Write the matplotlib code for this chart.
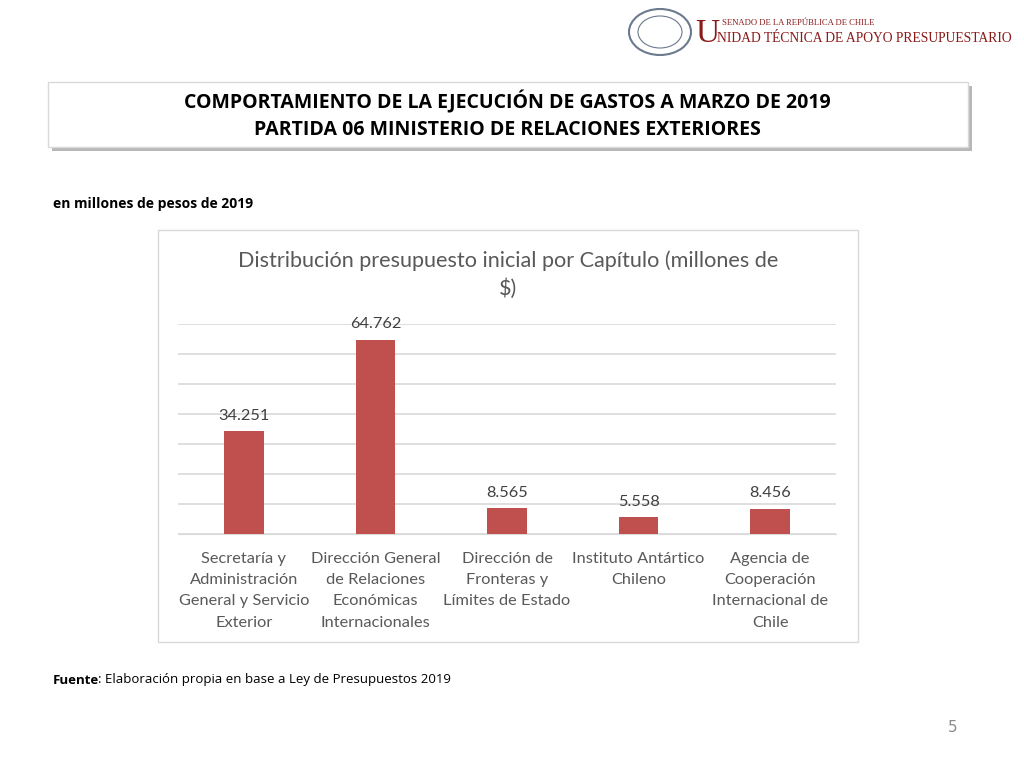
import matplotlib.pyplot as plt
from matplotlib.patches import Rectangle, Ellipse

# data
capitulos = [
    "Secretaría y\nAdministración\nGeneral y Servicio\nExterior",
    "Dirección General\nde Relaciones\nEconómicas\nInternacionales",
    "Dirección de\nFronteras y\nLímites de Estado",
    "Instituto Antártico\nChileno",
    "Agencia de\nCooperación\nInternacional de\nChile",
]
presupuesto = [34251, 64762, 8565, 5558, 8456]
etiquetas = ["34.251", "64.762", "8.565", "5.558", "8.456"]

W, H = 1024, 768
fig = plt.figure(figsize=(10.24, 7.68), dpi=100)
fig.patch.set_facecolor("white")
bold_font = ["Open Sans", "DejaVu Sans"]
chart_font = ["Lato", "DejaVu Sans"]

def fx(x):
    return x / W

def fy(y):
    return 1 - y / H

# header logo
fig.patches.append(Ellipse((fx(660), fy(32)), 62 / W, 46 / H, transform=fig.transFigure,
                           facecolor="white", edgecolor="#6b7a8f", lw=1.5))
fig.patches.append(Ellipse((fx(660), fy(32)), 44 / W, 32 / H, transform=fig.transFigure,
                           facecolor="white", edgecolor="#6b7a8f", lw=0.8))
fig.text(fx(695), fy(34), "U", fontsize=24, color="#8B1A1A", family="Liberation Serif",
         ha="left", va="center")
fig.text(fx(722), fy(23), "SENADO DE LA REPÚBLICA DE CHILE", fontsize=6.2, color="#8B1A1A",
         family="Liberation Serif", ha="left", va="center")
fig.text(fx(717), fy(39), "NIDAD TÉCNICA DE APOYO PRESUPUESTARIO", fontsize=9.8, color="#8B1A1A",
         family="Liberation Serif", ha="left", va="center")

# title box with shadow
fig.patches.append(Rectangle((fx(52), fy(151)), 920 / W, 65 / H, transform=fig.transFigure,
                             facecolor="#b8b8b8", edgecolor="none", zorder=0))
fig.patches.append(Rectangle((fx(48), fy(147)), 920 / W, 65 / H, transform=fig.transFigure,
                             facecolor="white", edgecolor="#d9d9d9", lw=1, zorder=1))
fig.text(fx(507), fy(102), "COMPORTAMIENTO DE LA EJECUCIÓN DE GASTOS A MARZO DE 2019",
         fontsize=14, fontweight="bold", family=bold_font, ha="center", va="center", zorder=2)
fig.text(fx(507), fy(130), "PARTIDA 06 MINISTERIO DE RELACIONES EXTERIORES",
         fontsize=14, fontweight="bold", family=bold_font, ha="center", va="center", zorder=2)

fig.text(fx(53), fy(204), "en millones de pesos de 2019", fontsize=10, fontweight="bold",
         ha="left", va="center", family=bold_font)

# chart frame
fig.patches.append(Rectangle((fx(158), fy(642)), 700 / W, 412 / H, transform=fig.transFigure,
                             facecolor="white", edgecolor="#d9d9d9", lw=1, zorder=-1))
fig.text(fx(508), fy(261), "Distribución presupuesto inicial por Capítulo (millones de",
         fontsize=15.6, color="#595959", family=chart_font, ha="center", va="center")
fig.text(fx(508), fy(289), "$)", fontsize=15.6, color="#595959", family=chart_font,
         ha="center", va="center")

ax = fig.add_axes([fx(178), fy(534), 658 / W, 210 / H])
ax.set_facecolor("none")
ax.set_zorder(2)
x = range(len(capitulos))
bars = ax.bar(x, presupuesto, width=0.30, color="#C0504D", zorder=3)
ax.set_xlim(-0.5, len(capitulos) - 0.5)
ax.set_ylim(0, 70000)
ax.set_yticks(range(0, 70001, 10000))
ax.yaxis.grid(True, color="#d9d9d9", lw=1.2)
ax.tick_params(left=False, bottom=False, labelleft=False, pad=9.5)
for s in ["top", "right", "left"]:
    ax.spines[s].set_visible(False)
ax.spines["bottom"].set_color("#d9d9d9")
ax.set_xticks(list(x))
ax.set_xticklabels(capitulos, fontsize=11.8, color="#595959", family=chart_font, linespacing=1.65)
for b, lab in zip(bars, etiquetas):
    ax.annotate(lab, (b.get_x() + b.get_width() / 2, b.get_height()), xytext=(0, 6),
                textcoords="offset points", ha="center", va="bottom", fontsize=11.8,
                color="#404040", family=chart_font)

# source and page number
fig.text(fx(53), fy(680), "Fuente", fontsize=9.5, fontweight="bold", ha="left", va="center",
         family=bold_font)
fig.text(fx(98), fy(680), ": Elaboración propia en base a Ley de Presupuestos 2019", fontsize=9.5,
         ha="left", va="center", family=bold_font)
fig.text(fx(953), fy(728), "5", fontsize=11, color="#8c8c8c", ha="center", va="center")

fig.savefig("out.png", dpi=100)
